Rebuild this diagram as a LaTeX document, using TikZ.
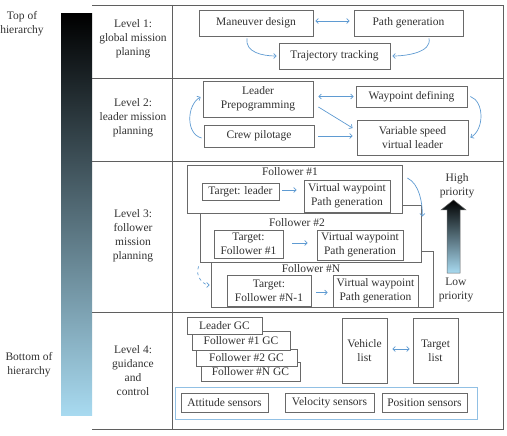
\documentclass[tikz,border=0pt]{standalone}
\usepackage{fontspec}
\setmainfont{Liberation Serif}
\usetikzlibrary{arrows.meta}
\definecolor{linegray}{RGB}{95,95,95}
\definecolor{boxgray}{RGB}{105,105,105}
\definecolor{textgray}{RGB}{50,50,50}
\definecolor{arrowblue}{RGB}{95,155,210}
\definecolor{sensblue}{RGB}{145,192,228}
\definecolor{barblue}{RGB}{168,218,240}
\tikzset{
  box/.style={draw=boxgray,line width=0.8pt,fill=white,inner sep=1pt,align=center,text=textgray},
  link/.style={draw=arrowblue,line width=0.7pt,-{Straight Barb[length=2.5pt,width=5pt]}},
  biarrow/.style={link,{Straight Barb[length=2.5pt,width=5pt]}-{Straight Barb[length=2.5pt,width=5pt]}},
  lvltext/.style={align=center,text=textgray,inner sep=0pt},
  tableline/.style={draw=linegray,line width=0.8pt},
}
\begin{document}
\begin{tikzpicture}[x=1pt,y=-1pt,every node/.style={font=\fontsize{11.5}{14}\selectfont}]
\useasboundingbox (0,0) rectangle (507,436);
% hierarchy bar
\shade[top color=black,bottom color=barblue] (61,14) rectangle (92,415);
\node[lvltext] (top) at (22,24) {Top of\\hierarchy};
\node[lvltext] (bottom) at (29,365) {Bottom of\\hierarchy};
% table
\draw[tableline] (92,5) -- (503,5) -- (503,429) -- (92,429);
\draw[tableline] (172,5) -- (172,429);
\draw[tableline] (92,78) -- (503,78);
\draw[tableline] (92,161) -- (503,161);
\draw[tableline] (92,312) -- (503,312);
\node[lvltext] (lvl1) at (133,39) {Level 1:\\global mission\\planing};
\node[lvltext] (lvl2) at (133,118) {Level 2:\\leader mission\\planning};
\node[lvltext] (lvl3) at (133,236) {Level 3:\\follower\\mission\\planning};
\node[lvltext] (lvl4) at (133,371) {Level 4:\\guidance\\and\\control};
% level 1
\node[box,minimum width=114pt,minimum height=26pt] (man) at (256,23) {Maneuver design};
\node[box,minimum width=109pt,minimum height=26pt] (pathgen) at (408.5,23) {Path generation};
\node[box,minimum width=111pt,minimum height=26pt] (traj) at (334.5,56) {Trajectory tracking};
\draw[biarrow,shorten <=2pt,shorten >=4pt] ([yshift=2pt]man.east) -- ([yshift=2pt]pathgen.west);
\draw[link] ([shift={(-9,2)}]man.south) .. controls +(-2,14) and +(-14,0) .. ([xshift=-2pt]traj.west);
\draw[link] ([shift={(20.5,2)}]pathgen.south) .. controls +(3,14) and +(14,0) .. ([xshift=2pt]traj.east);
% level 2
\node[box,minimum width=110pt,minimum height=36pt] (lead) at (258,99) {Leader\\Prepogramming};
\node[box,minimum width=110pt,minimum height=22pt] (crew) at (259,136) {Crew pilotage};
\node[box,minimum width=111pt,minimum height=21pt] (wayp) at (411.5,96.5) {Waypoint defining};
\node[box,minimum width=111pt,minimum height=35pt] (vsvl) at (412.5,137.5) {Variable speed\\virtual leader};
\draw[biarrow,shorten <=5pt,shorten >=2pt] (lead.east |- wayp.west) -- (wayp.west);
\draw[link] ([shift={(5,8)}]lead.east) -- ([shift={(-4,-9.5)}]vsvl.west);
\draw[link,shorten <=4pt,shorten >=4pt] (crew.east) -- (crew.east -| vsvl.west);
\draw[link] ([shift={(-2,2)}]crew.west) .. controls +(-16,-4) and +(-14,8) .. ([shift={(-2,-2)}]lead.west);
\draw[link] ([xshift=3pt]wayp.east) .. controls +(14,5) and +(14,-8) .. ([xshift=2pt]vsvl.east);
% level 3
\node[box,minimum width=222pt,minimum height=56pt] (foln) at (322,279) {};
\node[box,minimum width=221pt,minimum height=57pt] (fol2) at (310.5,233.5) {};
\node[box,minimum width=215pt,minimum height=48pt] (fol1) at (294.5,189) {};
\node[lvltext] (fol1t) at (290,172) {Follower \#1};
\node[lvltext] (fol2t) at (297,223) {Follower \#2};
\node[lvltext] (folnt) at (311,269) {Follower \#N};
\node[box,minimum width=77pt,minimum height=17pt] (tgt1) at (240.5,191.5) {Target: leader};
\node[box,minimum width=86pt,minimum height=32pt] (vw1) at (347,196) {Virtual waypoint\\Path generation};
\node[box,minimum width=69pt,minimum height=28pt] (tgt2) at (248.5,244) {Target:\\Follower \#1};
\node[box,minimum width=86pt,minimum height=30pt] (vw2) at (360,245) {Virtual waypoint\\Path generation};
\node[box,minimum width=84pt,minimum height=31pt] (tgtn) at (269,290.5) {Target:\\Follower \#N-1};
\node[box,minimum width=85pt,minimum height=32pt] (vwn) at (375.5,291) {Virtual waypoint\\Path generation};
\draw[link,shorten <=3pt,shorten >=7pt] ([yshift=1.5pt]tgt1.east) -- ([yshift=1.5pt]tgt1.east -| vw1.west);
\draw[link,shorten <=9pt,shorten >=9pt] ([yshift=1pt]tgt2.east) -- ([yshift=1pt]tgt2.east -| vw2.west);
\draw[link,shorten <=5pt,shorten >=5pt] ([yshift=-2pt]tgtn.east) -- ([yshift=-2pt]tgtn.east -| vwn.west);
\draw[link] ([shift={(5,-11)}]fol1.east) .. controls +(12,6) and +(0,-14) .. ([shift={(1,-17)}]fol2.east);
\draw[link,dashed] ([shift={(-1,4)}]fol2.south west) .. controls +(-4,10) and +(-6,0) .. ([shift={(-1,6)}]foln.west);
% priority
\shade[draw=boxgray,line width=0.5pt,top color=black,bottom color=barblue] (447,273) -- (447,210) -- (441,210)
  -- (453.5,200) -- (466,210) -- (460,210) -- (460,273) -- cycle;
\node[lvltext] (high) at (457,185.5) {High\\priority};
\node[lvltext] (low) at (456,290) {Low\\priority};
% level 4
\node[box,minimum width=99pt,minimum height=19pt] (gcn) at (250.5,371.5) {Follower \#N GC};
\node[box,minimum width=101pt,minimum height=17pt] (gc2) at (246.5,357.5) {Follower \#2 GC};
\node[box,minimum width=98pt,minimum height=19pt] (gc1) at (241,340.5) {Follower \#1 GC};
\node[box,minimum width=75pt,minimum height=17pt] (gcl) at (224.5,325.5) {Leader GC};
\node[box,minimum width=45pt,minimum height=65pt] (veh) at (364.5,350.5) {Vehicle\\list};
\node[box,minimum width=45pt,minimum height=65pt] (tgl) at (435.5,350.5) {Target\\list};
\draw[biarrow,shorten <=5pt,shorten >=3pt] ([yshift=1.5pt]veh.east) -- ([yshift=1.5pt]tgl.west);
\node[draw=sensblue,line width=0.9pt,minimum width=302pt,minimum height=32pt] (sens) at (326,403) {};
\node[box,minimum width=87pt,minimum height=19pt] (att) at (224.5,402.5) {Attitude sensors};
\node[box,minimum width=89pt,minimum height=19pt] (vel) at (329.5,402.5) {Velocity sensors};
\node[box,minimum width=85pt,minimum height=19pt] (pos) at (424.5,402.5) {Position sensors};
\end{tikzpicture}
\end{document}
